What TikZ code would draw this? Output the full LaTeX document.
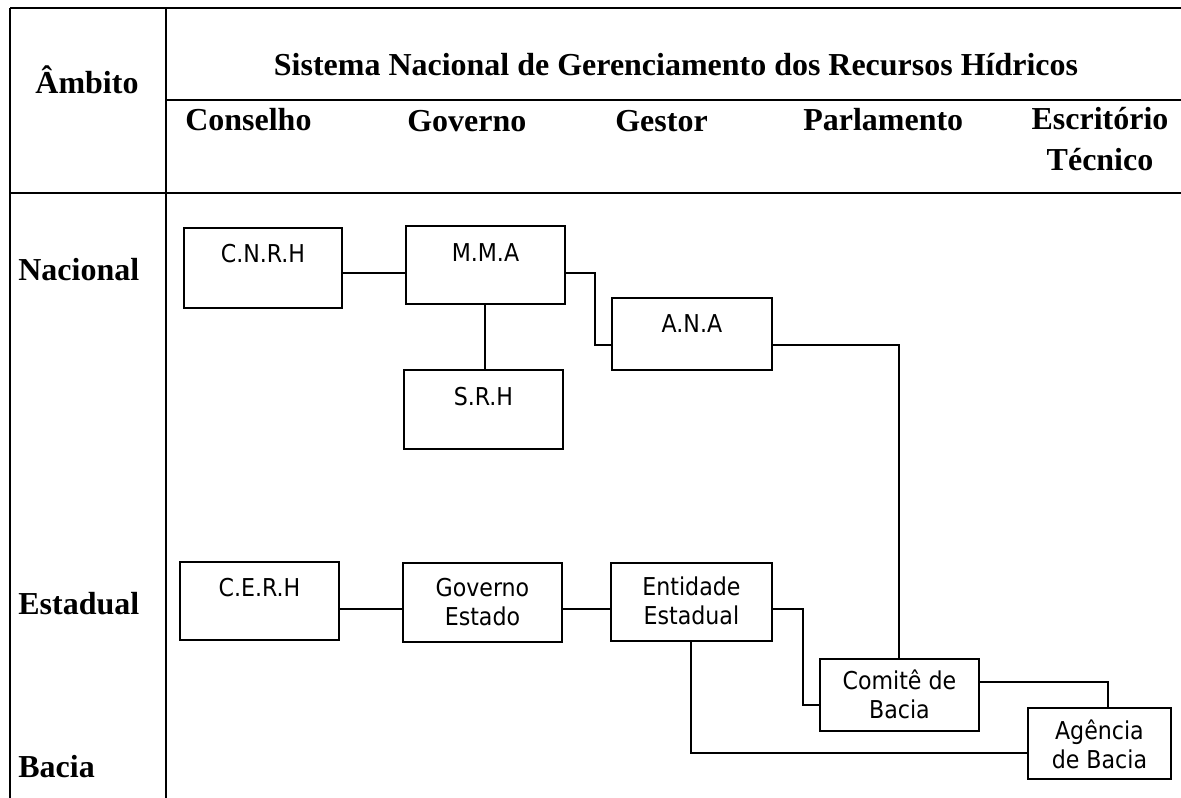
\documentclass[tikz,border=0pt]{standalone}
\usepackage{fontspec}
\usepackage{tikz}
\setmainfont{Liberation Serif}
\newfontfamily\boxfont{DejaVu Sans Condensed}

\begin{document}
\begin{tikzpicture}[x=0.02cm,y=-0.02cm,
    grade/.style={line width=1.7pt},
    titulo/.style={font=\fontsize{18.2}{22.8}\selectfont\bfseries,inner sep=0pt},
    orgao/.style={draw,line width=1.1pt,inner sep=0pt,align=center,anchor=north west,
      font=\fontsize{14}{16.6}\selectfont\boxfont},
    liga/.style={line width=1.1pt}]
  \useasboundingbox (0,0) rectangle (1181,798);
  % table
  \draw[grade] (10,8) -- (1181,8);
  \draw[grade] (10,8) -- (10,798);
  \draw[grade] (166,8) -- (166,798);
  \draw[grade] (166,100) -- (1181,100);
  \draw[grade] (10,193) -- (1181,193);
  \node (ambito) at (87,93) [titulo,anchor=base] {Âmbito};
  \node (sistema) at (676,75) [titulo,anchor=base] {Sistema Nacional de Gerenciamento dos Recursos Hídricos};
  \node (conselho) at (185,130) [titulo,anchor=base west] {Conselho};
  \node (governo) at (407,131) [titulo,anchor=base west] {Governo};
  \node (gestor) at (615,131) [titulo,anchor=base west] {Gestor};
  \node (parlamento) at (803,130) [titulo,anchor=base west] {Parlamento};
  \node (escritorio) at (1100,170) [titulo,anchor=base,align=center] {Escritório\\Técnico};
  \node (nacional) at (18,280) [titulo,anchor=base west] {Nacional};
  \node (estadual) at (18,614) [titulo,anchor=base west] {Estadual};
  \node (bacia) at (18,777) [titulo,anchor=base west] {Bacia};
  % nacional
  \node (cnrh) at (183,227) [orgao,minimum width=3.16cm,text height=0.70cm,text depth=0.90cm] {C.N.R.H};
  \node (mma) at (405,225) [orgao,minimum width=3.18cm,text height=0.72cm,text depth=0.84cm] {M.M.A};
  \node (srh) at (403,369) [orgao,minimum width=3.18cm,text height=0.72cm,text depth=0.86cm] {S.R.H};
  \node (ana) at (611,297) [orgao,minimum width=3.20cm,text height=0.70cm,text depth=0.74cm] {A.N.A};
  % estadual / bacia
  \node (cerh) at (179,561) [orgao,minimum width=3.18cm,text height=0.70cm,text depth=0.86cm] {C.E.R.H};
  \node (govest) at (402,562) [orgao,minimum width=3.18cm,text height=1.26cm,text depth=0.32cm] {Governo\\Estado};
  \node (entidade) at (610,562) [orgao,minimum width=3.22cm,text height=1.24cm,text depth=0.32cm] {Entidade\\Estadual};
  \node (comite) at (819,658) [orgao,minimum width=3.18cm,text height=1.20cm,text depth=0.24cm] {Comitê de\\Bacia};
  \node (agencia) at (1027,707) [orgao,minimum width=2.86cm,text height=1.22cm,text depth=0.20cm] {Agência\\de Bacia};
  % ligacoes
  \draw[liga] (cnrh.east |- 0,273) -- (mma.west |- 0,273);
  \draw[liga] (mma.south) -- (mma.south |- srh.north);
  \draw[liga] (mma.east |- 0,273) -| (595,345) -- (ana.west |- 0,345);
  \draw[liga] (ana.east |- 0,345) -| (899,0 |- comite.north);
  \draw[liga] (cerh.east |- 0,609) -- (govest.west |- 0,609);
  \draw[liga] (govest.east |- 0,609) -- (entidade.west |- 0,609);
  \draw[liga] (entidade.east |- 0,609) -| (803,705) -- (comite.west |- 0,705);
  \draw[liga] (691,0 |- entidade.south) |- (agencia.west |- 0,753);
  \draw[liga] (comite.east |- 0,682) -| (1108,0 |- agencia.north);
\end{tikzpicture}
\end{document}
